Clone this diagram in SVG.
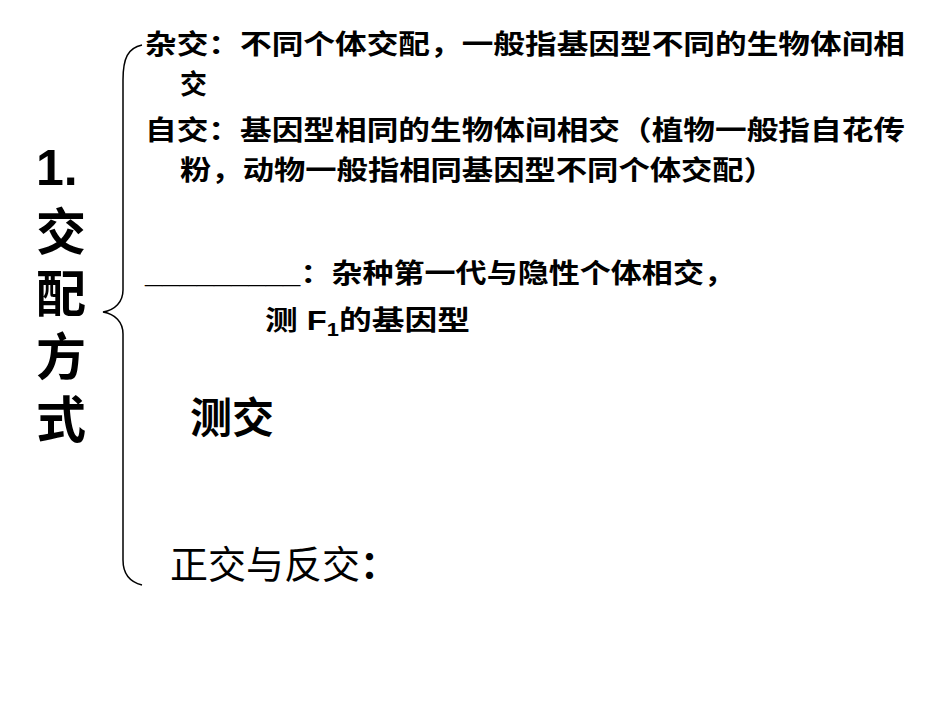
<svg xmlns="http://www.w3.org/2000/svg" width="950" height="713" viewBox="0 0 950 713">
<style>
.t{font-family:"Liberation Sans","Noto Sans CJK SC",sans-serif;font-weight:bold;font-size:27px;fill:#000}
.big{font-family:"Liberation Sans","Noto Sans CJK SC",sans-serif;font-weight:bold;font-size:50px;fill:#000}
</style>
<rect width="950" height="713" fill="#fff"/>
<g id="title">
<text class="big" x="36" y="185">1.</text>
<text class="big" x="36" y="250">交</text>
<text class="big" x="36" y="312">配</text>
<text class="big" x="36" y="375">方</text>
<text class="big" x="36" y="438">式</text>
</g>
<g id="connectors">
<path d="M142,45 C128,48 123,58 123,80 L123,290 C123,302 115,310 103,312 C115,314 123,322 123,334 L123,560 C123,575 130,582 142,585" fill="none" stroke="#000" stroke-width="1.5"/>
</g>
<g id="zajiao">
<text class="t" x="145" y="54" textLength="760" lengthAdjust="spacingAndGlyphs">杂交：不同个体交配，一般指基因型不同的生物体间相</text>
<text class="t" x="180" y="94">交</text>
</g>
<g id="zijiao">
<text class="t" x="145" y="140" textLength="760" lengthAdjust="spacingAndGlyphs">自交：基因型相同的生物体间相交（植物一般指自花传</text>
<text class="t" x="180" y="180" textLength="595" lengthAdjust="spacingAndGlyphs">粉，动物一般指相同基因型不同个体交配）</text>
</g>
<g id="cejiao-def">
<text class="t" x="145" y="283" textLength="590" lengthAdjust="spacingAndGlyphs">_________：杂种第一代与隐性个体相交，</text>
<text class="t" x="265" y="330" textLength="205" lengthAdjust="spacingAndGlyphs">测 F<tspan font-size="18" dy="6">1</tspan><tspan dy="-6">的基因型</tspan></text>
</g>
<g id="cejiao">
<text class="t" x="190" y="433" style="font-size:42px">测交</text>
</g>
<g id="zhengfan">
<text x="170" y="578" style="font-family:'Noto Sans CJK SC',sans-serif;font-size:38px">正交与反交<tspan font-weight="bold">：</tspan></text>
</g>
</svg>
